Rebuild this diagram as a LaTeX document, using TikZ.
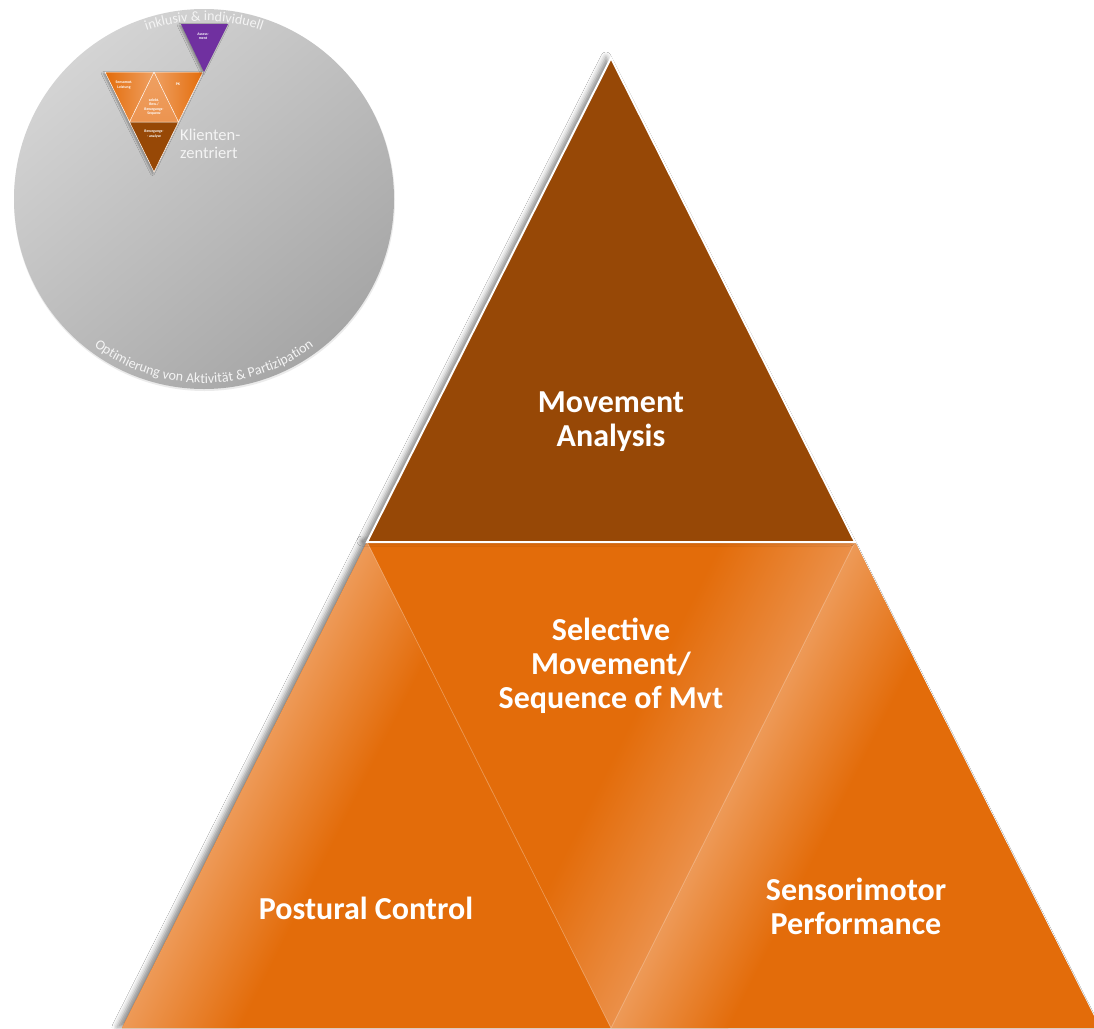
\documentclass[tikz,border=0pt]{standalone}
\usepackage{fontspec}
\setmainfont{Carlito}
\usetikzlibrary{decorations.text,shadows.blur}
\definecolor{brownc}{HTML}{974806}
\definecolor{orangec}{HTML}{E36C0A}
\definecolor{orangelt}{HTML}{EFA062}
\definecolor{orangemid}{HTML}{EC9450}
\definecolor{purplec}{HTML}{7030A0}
\definecolor{greylt}{HTML}{D4D4D4}
\definecolor{greydk}{HTML}{A6A6A6}
\definecolor{circtext}{HTML}{F4F4F4}
\begin{document}
\begin{tikzpicture}[x=1pt,y=1pt,
  bigtext/.style={text=white,font=\bfseries\fontsize{32}{34}\selectfont,align=center},
  tinytext/.style={text=white,font=\bfseries\fontsize{3.8}{4.2}\selectfont,align=center,inner sep=0pt},
  thinedge/.style={draw=white,line width=0.5pt,line join=round},
  softshadow/.style={blur shadow={shadow xshift=-5pt,shadow yshift=1pt,shadow blur radius=5pt,shadow opacity=45}}]
\useasboundingbox (0,0) rectangle (1094,-1028);
\fill[white] (0,0) rectangle (1094,-1028);

% ---------- small overview circle ----------
\fill[black,opacity=0.08] (204.5,-200.5) circle[radius=190.5];
\shade[top color=greylt,bottom color=greydk,shading angle=40]
  (204,-199) circle[radius=190];
\path[decorate,decoration={text along path,text align=center,text color=circtext,
  text={|\fontsize{14}{14}\selectfont|inklusiv {\&} individuell}}]
  (204,-199) ++(160:178) arc[start angle=160,end angle=20,radius=178];
\path[decorate,decoration={text along path,text align=center,text color=circtext,
  text={|\fontsize{14}{14}\selectfont|Optimierung von Aktivit{ä}t {\&} Partizipation}}]
  (204,-199) ++(200:184) arc[start angle=200,end angle=340,radius=184];

% small inverted pyramid
\coordinate (s1) at (105,-72);
\coordinate (s2) at (154,-72);
\coordinate (s3) at (203,-72);
\coordinate (s4) at (129.5,-122);
\coordinate (s5) at (178.5,-122);
\coordinate (s6) at (154,-172);
\fill[orangec,blur shadow={shadow xshift=-1.5pt,shadow yshift=-1.5pt,shadow blur radius=2pt,shadow opacity=35}]
  (s1) -- (s3) -- (s6) -- cycle;
\shade[left color=orangec,right color=orangelt] (s1) -- (s2) -- (s4) -- cycle;
\shade[top color=orangelt,bottom color=orangemid] (s2) -- (s5) -- (s4) -- cycle;
\shade[left color=orangelt,right color=orangec] (s2) -- (s3) -- (s5) -- cycle;
\fill[brownc] (s4) -- (s5) -- (s6) -- cycle;
\draw[thinedge] (s1) -- (s3) -- (s6) -- cycle;
\draw[thinedge] (s4) -- (s2) -- (s5) -- cycle;

\coordinate (p1) at (181,-24);
\coordinate (p2) at (228,-24);
\coordinate (p3) at (204,-72);
\fill[purplec,blur shadow={shadow xshift=-1.5pt,shadow yshift=-1.5pt,shadow blur radius=2pt,shadow opacity=35}]
  (p1) -- (p2) -- (p3) -- cycle;

\node[tinytext] (t1) at (124,-85) {Sensomot.\\Leistung};
\node[tinytext] (t2) at (178,-84) {PK};
\node[tinytext] (t3) at (154,-107) {selekt.\\Bew./\\Bewegungs-\\Sequenz};
\node[tinytext] (t4) at (154,-134) {Bewegungs-\\- analyse};
\node[tinytext] (t5) at (203,-36.5) {Assess-\\ment};
\node[anchor=west,text=circtext,font=\fontsize{16.5}{18.5}\selectfont,align=left,inner sep=0pt]
  (kz) at (180,-144) {Klienten-\\zentriert};

% ---------- big pyramid ----------
\coordinate (apex) at (611,-58);
\coordinate (bl) at (367,-542);
\coordinate (br) at (855,-542);
\coordinate (ll) at (122,-1028);
\coordinate (vv) at (611,-1028);
\coordinate (rr) at (1100,-1028);

\fill[orangec,softshadow] (bl) -- (ll) -- (rr) -- (br) -- cycle;
% sheen on the left triangle
\begin{scope}
  \clip (bl) -- (ll) -- (vv) -- cycle;
  \begin{scope}[transform canvas={shift={(367,-542)},rotate=243.25}]
    \shade[bottom color=orangelt,top color=orangec] (-20,-15) rectangle (600,105);
  \end{scope}
\end{scope}
% sheen on the middle triangle
\begin{scope}
  \clip (bl) -- (br) -- (vv) -- cycle;
  \begin{scope}[transform canvas={shift={(855,-542)},rotate=243.34}]
    \shade[top color=orangemid,bottom color=orangec] (-20,-120) rectangle (600,15);
  \end{scope}
\end{scope}
% sheen on the right triangle
\begin{scope}
  \clip (br) -- (vv) -- (rr) -- cycle;
  \begin{scope}[transform canvas={shift={(855,-542)},rotate=243.34}]
    \shade[bottom color=orangelt,top color=orangec] (-20,-15) rectangle (600,105);
  \end{scope}
\end{scope}
\draw[white,opacity=0.3,line width=0.7pt] (bl) -- (vv) -- (br);

\fill[brownc,softshadow] (apex) -- (bl) -- (br) -- cycle;
\draw[white,line width=2pt,line join=miter] (apex) -- (bl) -- (br) -- cycle;

\node[bigtext] (ma) at (611,-422) {Movement\\Analysis};
\node[bigtext] (sm) at (611,-666) {Selective\\Movement/\\Sequence of Mvt};
\node[bigtext] (pc) at (366,-908) {Postural Control};
\node[bigtext] (sp) at (856,-906) {Sensorimotor\\Performance};
\end{tikzpicture}
\end{document}
